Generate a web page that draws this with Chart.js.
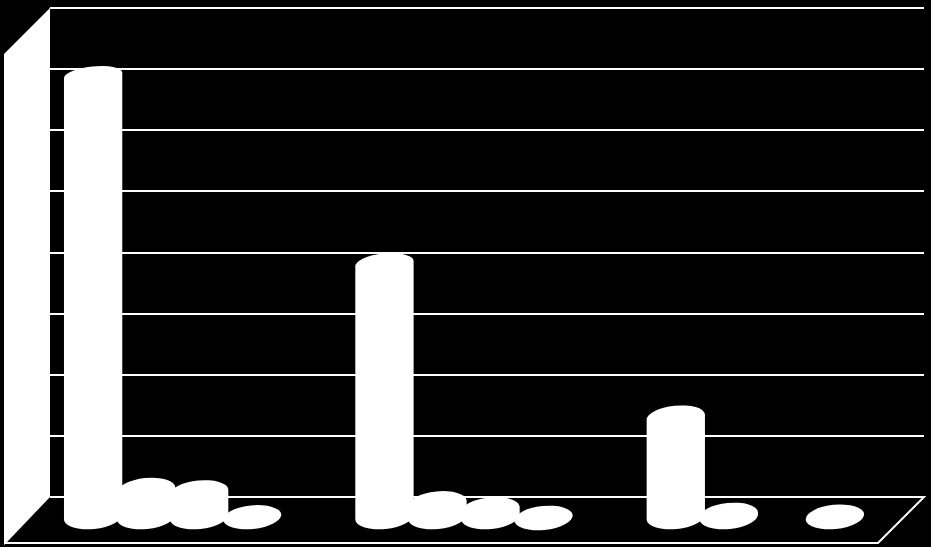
<!DOCTYPE html>
<html>
<head>
<meta charset="utf-8">
<title>Chart</title>
<script src="https://cdn.jsdelivr.net/npm/chart.js@4"></script>
<style>
    html, body { margin: 0; padding: 0; background: #000; }
    canvas { display: block; }
</style>
</head>
<body>
<canvas id="grafico" width="931" height="547"></canvas>
<script>
const categorias = ['1', '2', '3']
const serie1 = [72.4, 41.6, 16.5]
const serie2 = [4.6, 2.4, 0.5]
const serie3 = [4.2, 1.4, null]
const serie4 = [0.1, 0, 0.2]
const ticksY = [0, 80, 10]

const BRANCO = '#fff'

// profundidade da parede lateral e do piso
const PROF_X = 46
const PROF_Y = 46
// deslocamento das barras em relacao a parede do fundo
const DESLOC_X = -23
const DESLOC_Y = 21
// inclinacao das elipses (lado direito mais alto)
const INCLINACAO = -0.1

const paredes = {
    id: 'paredes',
    beforeDatasetsDraw(chart) {
        const { ctx, chartArea: a } = chart
        ctx.save()
        ctx.fillStyle = BRANCO
        ctx.beginPath()
        ctx.moveTo(a.left, a.top)
        ctx.lineTo(a.left - PROF_X, a.top + PROF_Y)
        ctx.lineTo(a.left - PROF_X, a.bottom + PROF_Y + 2)
        ctx.lineTo(a.left - PROF_X + 4, a.bottom + PROF_Y - 2)
        ctx.lineTo(a.left, a.bottom)
        ctx.closePath()
        ctx.fill()

        ctx.strokeStyle = BRANCO
        ctx.lineWidth = 2
        ctx.beginPath()
        ctx.moveTo(a.left, a.bottom)
        ctx.lineTo(a.right, a.bottom)
        ctx.lineTo(a.right - PROF_X, a.bottom + PROF_Y)
        ctx.lineTo(a.left - PROF_X, a.bottom + PROF_Y)
        ctx.stroke()
        ctx.restore()
    }
}

const cilindros = {
    id: 'cilindros',
    afterDatasetsDraw(chart) {
        const { ctx } = chart
        ctx.save()
        ctx.fillStyle = BRANCO
        chart.data.datasets.forEach((ds, i) => {
            chart.getDatasetMeta(i).data.forEach((barra, j) => {
                if (ds.data[j] === null) return
                const x = barra.x + DESLOC_X
                const topo = barra.y + DESLOC_Y
                const base = barra.base + DESLOC_Y
                const raio = barra.width / 2
                // a elipse do topo achata conforme sobe
                const ryTopo = 9 + 3 * (topo - 66) / (base - 66)
                // metade de cima do topo + metade de baixo da base
                ctx.beginPath()
                ctx.ellipse(x, topo, raio, ryTopo, INCLINACAO, Math.PI, Math.PI * 2)
                ctx.ellipse(x, base, raio, 12, INCLINACAO, 0, Math.PI)
                ctx.closePath()
                ctx.fill()
            })
        })
        ctx.restore()
    }
}

const criarSerie = (label, data) => ({
    label: label,
    data: data,
    backgroundColor: 'rgba(0,0,0,0)',
    borderWidth: 0
})

new Chart(document.getElementById('grafico'), {
    type: 'bar',
    data: {
        labels: categorias,
        datasets: [
            criarSerie('Serie 1', serie1),
            criarSerie('Serie 2', serie2),
            criarSerie('Serie 3', serie3),
            criarSerie('Serie 4', serie4)
        ]
    },
    options: {
        responsive: false,
        animation: false,
        categoryPercentage: 0.728,
        barPercentage: 1.105,
        layout: {
            padding: { left: 50, right: 7, top: 8, bottom: 50 }
        },
        plugins: {
            legend: { display: false },
            tooltip: { enabled: false }
        },
        scales: {
            x: {
                display: false
            },
            y: {
                min: ticksY[0],
                max: ticksY[1],
                ticks: { display: false, stepSize: ticksY[2] },
                border: { display: false },
                grid: {
                    color: BRANCO,
                    lineWidth: 2,
                    drawTicks: false
                }
            }
        }
    },
    plugins: [paredes, cilindros]
})
</script>
</body>
</html>
